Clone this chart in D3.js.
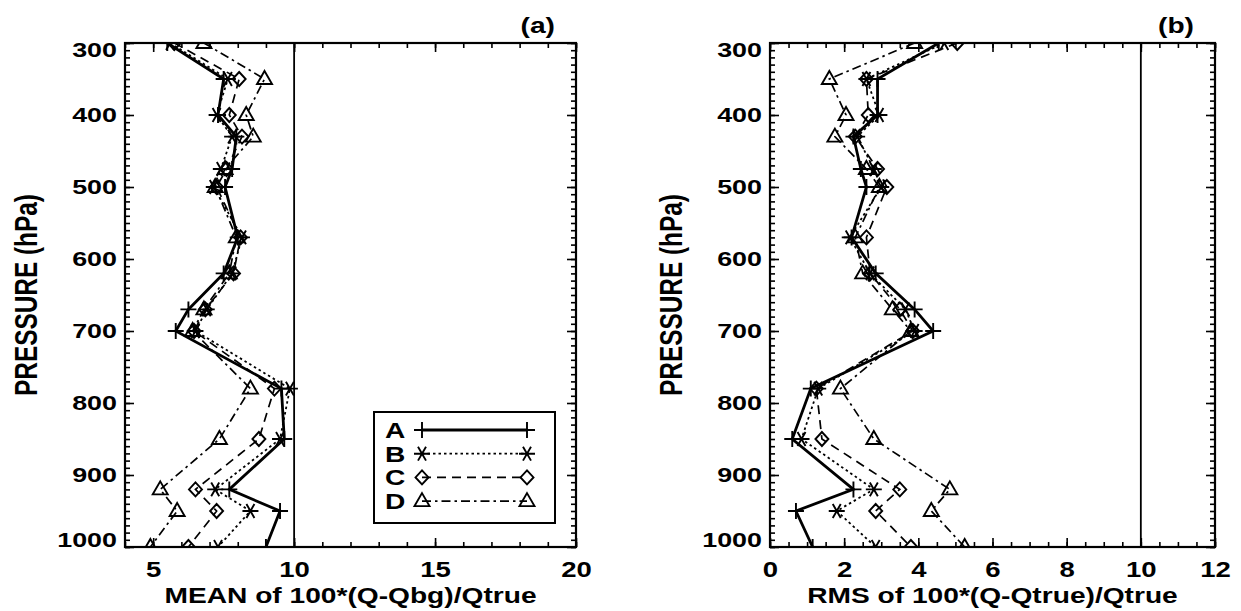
<!DOCTYPE html>
<html>
<head>
<meta charset="utf-8">
<script src="https://cdn.jsdelivr.net/npm/d3@7"></script>
<style>
  body { margin: 0; background: #fff; }
</style>
</head>
<body>
<svg id="chart" width="1241" height="611"></svg>
<script>
// pressure levels (hPa)
var levels = [300, 350, 400, 430, 475, 500, 570, 620, 670, 700, 780, 850, 920, 950, 1000];

// panel (a): MEAN of 100*(Q-Qbg)/Qtrue
var meanA = [5.5, 7.5, 7.3, 7.95, 7.8, 7.55, 8.0, 7.5, 6.25, 5.8, 9.55, 9.65, 7.7, 9.5, 9.0];
var meanB = [5.6, 7.65, 7.25, 7.8, 7.4, 7.15, 8.15, 7.8, 6.9, 6.5, 9.85, 9.5, 7.2, 8.45, 7.3];
var meanC = [5.75, 8.05, 7.7, 8.15, 7.6, 7.25, 8.1, 7.85, 6.85, 6.45, 9.3, 8.75, 6.5, 7.25, 6.25];
var meanD = [6.8, 8.95, 8.3, 8.55, 7.55, 7.2, 7.95, 7.7, 6.8, 6.4, 8.45, 7.35, 5.25, 5.85, 4.9];

// panel (b): RMS of 100*(Q-Qtrue)/Qtrue
var rmsA = [4.55, 2.9, 2.9, 2.25, 2.45, 2.6, 2.2, 2.85, 3.9, 4.4, 1.1, 0.6, 2.25, 0.7, 1.15];
var rmsB = [4.7, 2.6, 2.95, 2.35, 2.8, 3.0, 2.15, 2.7, 3.65, 3.9, 1.3, 0.85, 2.8, 1.8, 2.85];
var rmsC = [5.05, 2.6, 2.65, 2.3, 2.9, 3.15, 2.6, 2.7, 3.5, 3.85, 1.25, 1.4, 3.5, 2.85, 3.8];
var rmsD = [3.9, 1.6, 2.05, 1.75, 2.6, 2.95, 2.3, 2.5, 3.3, 3.8, 1.9, 2.8, 4.85, 4.35, 5.25];

var seriesNames = ["A", "B", "C", "D"];
var yTicks = [300, 400, 500, 600, 700, 800, 900, 1000];
var meanTicks = [5, 10, 15, 20];
var rmsTicks = [0, 2, 4, 6, 8, 10, 12];

var FONT = "'Liberation Sans', Arial, Helvetica, sans-serif";
var SX = 1.28; // the scanned figure is stretched sideways

var styles = {
  A: { width: 2.8, dash: null, marker: "M-8,0H8M0,-8V8" },
  B: { width: 1.8, dash: "2.5,3", marker: "M-8,0H8M-4,-6.93L4,6.93M-4,6.93L4,-6.93" },
  C: { width: 1.7, dash: "9,6", marker: "M0,-7L6.5,0L0,7L-6.5,0Z" },
  D: { width: 1.7, dash: "9,4,2.5,4", marker: "M0,-8L7.5,5L-7.5,5Z" }
};

var svg = d3.select("#chart");
var y = d3.scaleLinear().domain([300, 1000]).range([43, 547]);

function stretchTicks(g) {
  g.selectAll(".tick text").each(function () {
    var t = d3.select(this);
    t.attr("x", (+t.attr("x")) / SX).attr("transform", "scale(" + SX + ",1)");
  });
}

function styleAxis(g, size) {
  g.attr("font-family", FONT).attr("font-size", size).attr("font-weight", "bold");
  g.select(".domain").remove();
  g.selectAll(".tick line").attr("stroke", "#000").attr("stroke-width", 1.6);
  g.selectAll(".tick text").attr("fill", "#000");
}

function drawPanel(id, x, xMajor, xMinorStep, data, xTitle, tag, legend) {
  var x0 = x.range()[0], x1 = x.range()[1];
  var y0 = y.range()[0], y1 = y.range()[1];
  var panel = svg.append("g").attr("id", id);
  var dom = x.domain();
  var xMinor = d3.range(dom[0], dom[1] + 0.001, xMinorStep);
  var yMinor = d3.range(300, 1001, 10);

  // minor ticks on all four sides
  panel.append("g").attr("transform", "translate(" + x0 + ",0)")
    .call(d3.axisLeft(y).tickValues(yMinor).tickSize(-5).tickFormat("")).call(styleAxis, 0);
  panel.append("g").attr("transform", "translate(" + x1 + ",0)")
    .call(d3.axisRight(y).tickValues(yMinor).tickSize(-5).tickFormat("")).call(styleAxis, 0);
  panel.append("g").attr("transform", "translate(0," + y1 + ")")
    .call(d3.axisBottom(x).tickValues(xMinor).tickSize(-5).tickFormat("")).call(styleAxis, 0);
  panel.append("g").attr("transform", "translate(0," + y0 + ")")
    .call(d3.axisTop(x).tickValues(xMinor).tickSize(-5).tickFormat("")).call(styleAxis, 0);

  // major ticks
  var yl = panel.append("g").attr("transform", "translate(" + x0 + ",0)")
    .call(d3.axisLeft(y).tickValues(yTicks).tickSize(-9).tickPadding(8).tickFormat(d3.format("d")))
    .call(styleAxis, 21).call(stretchTicks);
  yl.selectAll(".tick text").attr("y", function (d) { return d == 300 ? 7 : (d == 1000 ? -7 : 0); });
  panel.append("g").attr("transform", "translate(" + x1 + ",0)")
    .call(d3.axisRight(y).tickValues(yTicks).tickSize(-9).tickFormat("")).call(styleAxis, 0);
  panel.append("g").attr("transform", "translate(0," + y1 + ")")
    .call(d3.axisBottom(x).tickValues(xMajor).tickSize(-9).tickPadding(15).tickFormat(d3.format("d")))
    .call(styleAxis, 21.5).call(stretchTicks);
  panel.append("g").attr("transform", "translate(0," + y0 + ")")
    .call(d3.axisTop(x).tickValues(xMajor).tickSize(-9).tickFormat("")).call(styleAxis, 0);

  // frame
  panel.append("rect").attr("x", x0).attr("y", y0).attr("width", x1 - x0).attr("height", y1 - y0)
    .attr("fill", "none").attr("stroke", "#000").attr("stroke-width", 2.2);

  // reference line at 10
  panel.append("line").attr("x1", x(10)).attr("x2", x(10)).attr("y1", y0).attr("y2", y1)
    .attr("stroke", "#000").attr("stroke-width", 1.8);

  // series, clipped to the plot box
  panel.append("clipPath").attr("id", id + "-clip").append("rect")
    .attr("x", x0).attr("y", y0).attr("width", x1 - x0).attr("height", y1 - y0);
  var plot = panel.append("g").attr("clip-path", "url(#" + id + "-clip)");
  var line = d3.line().x(function (d) { return x(d.v); }).y(function (d) { return y(d.p); });

  seriesNames.forEach(function (name, i) {
    var st = styles[name];
    var pts = levels.map(function (p, j) { return { p: p, v: data[i][j] }; });
    plot.append("path").datum(pts).attr("d", line)
      .attr("fill", "none").attr("stroke", "#000").attr("stroke-width", st.width)
      .attr("stroke-dasharray", st.dash);
    plot.selectAll(".m" + name).data(pts).enter().append("path")
      .attr("class", "m" + name)
      .attr("d", st.marker)
      .attr("transform", function (d) { return "translate(" + x(d.v) + "," + y(d.p) + ")"; })
      .attr("fill", "none").attr("stroke", "#000").attr("stroke-width", 1.9);
  });

  // titles
  panel.append("text").text(xTitle)
    .attr("transform", "translate(" + ((x0 + x1) / 2) + ",603) scale(" + SX + ",1)")
    .attr("text-anchor", "middle").attr("font-family", FONT).attr("font-size", 22).attr("font-weight", "bold");
  panel.append("text").text("PRESSURE (hPa)")
    .attr("transform", "translate(" + (x0 - 88) + "," + ((y0 + y1) / 2) + ") scale(" + SX + ",1) rotate(-90)")
    .attr("text-anchor", "middle").attr("font-family", FONT).attr("font-size", 24.4).attr("font-weight", "bold");
  panel.append("text").text(tag)
    .attr("transform", "translate(" + (x1 - 21) + ",33) scale(" + SX + ",1)")
    .attr("text-anchor", "end").attr("font-family", FONT).attr("font-size", 22).attr("font-weight", "bold");

  if (legend) {
    var lg = panel.append("g");
    lg.append("rect").attr("x", 374).attr("y", 412).attr("width", 181).attr("height", 111)
      .attr("fill", "#fff").attr("stroke", "#000").attr("stroke-width", 2);
    seriesNames.forEach(function (name, i) {
      var st = styles[name];
      var ly = 430 + i * 23.7;
      lg.append("text").text(name)
        .attr("transform", "translate(385," + (ly + 8) + ") scale(" + SX + ",1)")
        .attr("font-family", FONT).attr("font-size", 22).attr("font-weight", "bold");
      lg.append("line").attr("x1", 422).attr("x2", 527).attr("y1", ly).attr("y2", ly)
        .attr("stroke", "#000").attr("stroke-width", st.width).attr("stroke-dasharray", st.dash);
      [422, 527].forEach(function (lx) {
        lg.append("path").attr("d", st.marker).attr("transform", "translate(" + lx + "," + ly + ")")
          .attr("fill", "none").attr("stroke", "#000").attr("stroke-width", 1.9);
      });
    });
  }
}

drawPanel("pa", d3.scaleLinear().domain([4, 20]).range([125, 576]), meanTicks, 1,
  [meanA, meanB, meanC, meanD], "MEAN of 100*(Q-Qbg)/Qtrue", "(a)", true);
drawPanel("pb", d3.scaleLinear().domain([0, 12]).range([770, 1215]), rmsTicks, 0.5,
  [rmsA, rmsB, rmsC, rmsD], "RMS of 100*(Q-Qtrue)/Qtrue", "(b)", false);
</script>
</body>
</html>
